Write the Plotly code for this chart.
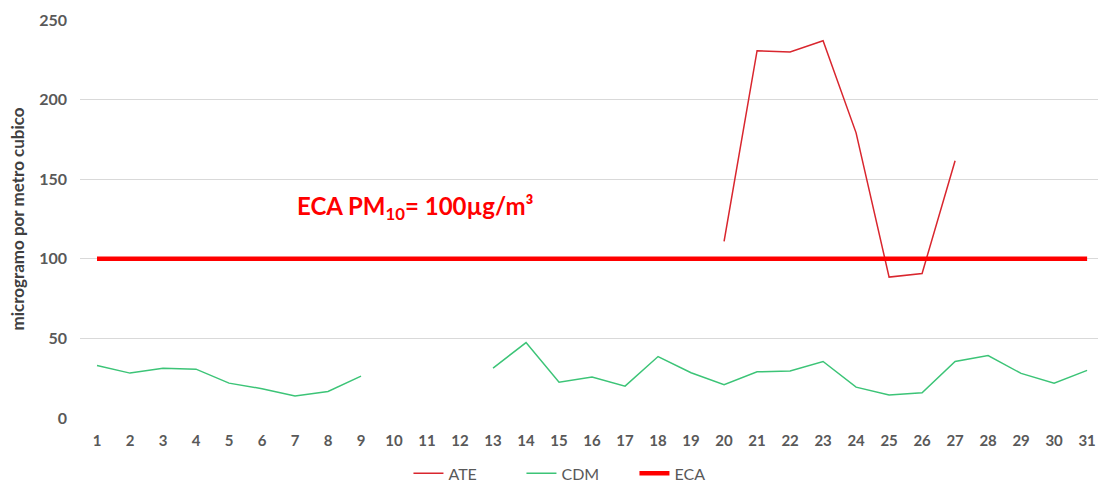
import plotly.graph_objects as go

# days of the month
days = list(range(1, 32))

# PM10 readings per station (None = no data)
ate = [None] * 19 + [110.9, 230.7, 229.9, 237.0, 179.1, 88.5, 90.8, 161.6] + [None] * 4
cdm = [33.0, 28.2, 31.3, 30.7, 21.9, 18.4, 13.8, 16.7, 26.3, None, None, None,
       31.3, 47.4, 22.5, 25.7, 20.0, 38.6, 28.4, 20.9, 29.0, 29.6, 35.5, 19.4,
       14.4, 15.9, 35.5, 39.2, 28.0, 21.9, 29.9]
eca = [100] * 31

font_family = "Lato, 'Open Sans', sans-serif"
grey = "#595959"

fig = go.Figure()
fig.add_trace(go.Scatter(x=days, y=ate, name="ATE", mode="lines",
                         line=dict(color="#D9262E", width=1.5)))
fig.add_trace(go.Scatter(x=days, y=cdm, name="CDM", mode="lines",
                         line=dict(color="#3CC477", width=1.5)))
fig.add_trace(go.Scatter(x=days, y=eca, name="ECA", mode="lines",
                         line=dict(color="#FF0000", width=4.5)))

fig.add_annotation(x=7.0, y=132.5, xref="x", yref="y", xanchor="left",
                   text="<b>ECA PM<sub>10</sub>= 100µg/m³</b>", showarrow=False,
                   font=dict(family=font_family, size=24, color="#FF0000"))

fig.update_layout(
    width=1098, height=485,
    margin=dict(l=80, r=0, t=20, b=67, autoexpand=False),
    paper_bgcolor="white", plot_bgcolor="white",
    font=dict(family=font_family, color=grey),
    showlegend=True,
    legend=dict(orientation="h", xref="container", x=0.372, xanchor="left",
                yref="container", y=0.024, yanchor="middle",
                entrywidth=68, entrywidthmode="pixels",
                font=dict(size=16, color=grey)),
    xaxis=dict(tickmode="array", tickvals=days, ticktext=[str(d) for d in days],
               range=[0.485, 31.33], showgrid=False, zeroline=False, showline=False,
               automargin=False, ticklabelstandoff=12,
               tickfont=dict(size=15, color=grey, weight="bold"), ticks=""),
    yaxis=dict(range=[0, 250], dtick=50, showgrid=True, gridcolor="#D9D9D9",
               zeroline=False, showline=False, ticks="", automargin=False,
               ticklabelstandoff=12,
               tickfont=dict(size=16, color=grey, weight="bold"),
               title=dict(text="<b>microgramo por metro cubico</b>", standoff=10,
                          font=dict(size=17, color="#404040"))),
)

# drop the default body margin so the figure fills the window exactly
fig.write_html("out.html", config={"displayModeBar": False},
               post_script="document.body.style.margin='0';document.body.style.overflow='hidden';")
